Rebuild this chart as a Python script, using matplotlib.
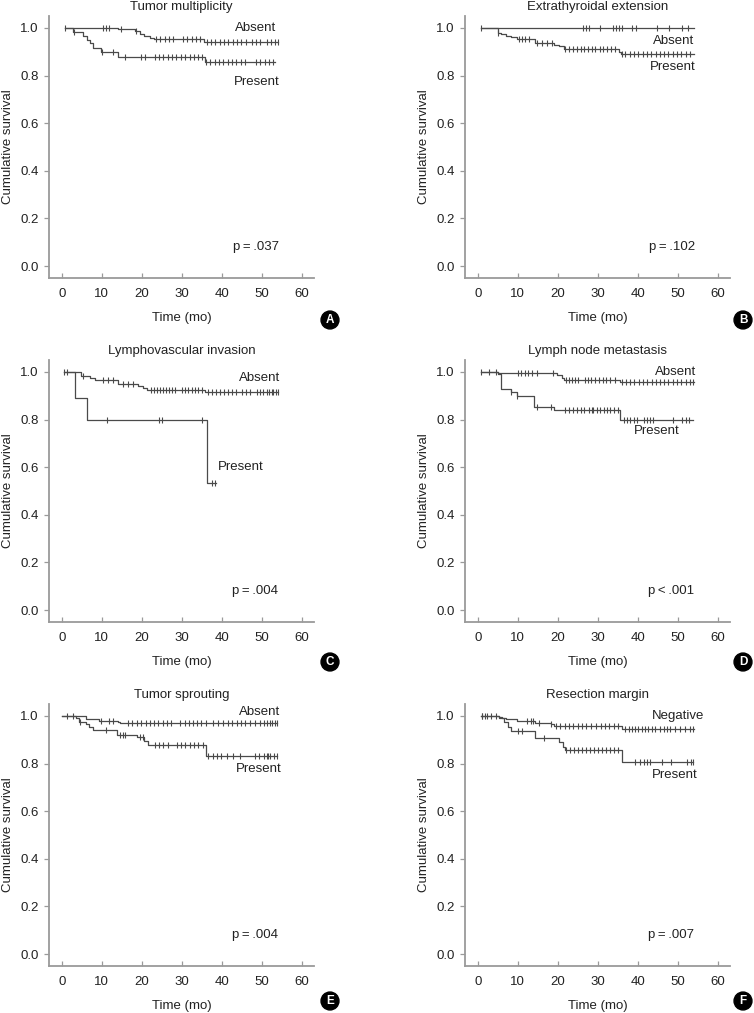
import numpy as np
import matplotlib
matplotlib.use("Agg")
import matplotlib.pyplot as plt

plt.rcParams['font.family'] = ['Liberation Sans', 'DejaVu Sans']

# ---------------- data ----------------
titles = ["Tumor multiplicity", "Extrathyroidal extension", "Lymphovascular invasion",
          "Lymph node metastasis", "Tumor sprouting", "Resection margin"]
letters = ["A", "B", "C", "D", "E", "F"]
pvalues = ["p\u2009=\u2009.037", "p\u2009=\u2009.102", "p\u2009=\u2009.004",
           "p\u2009<\u2009.001", "p\u2009=\u2009.004", "p\u2009=\u2009.007"]
group_names = [("Absent", "Present"), ("Absent", "Present"), ("Absent", "Present"),
               ("Absent", "Present"), ("Absent", "Present"), ("Negative", "Present")]
x_ticks = [0, 10, 20, 30, 40, 50, 60]
y_ticks = [0.0, 0.2, 0.4, 0.6, 0.8, 1.0]

# A - Tumor multiplicity
a1_span = (0.75, 54.1)
a1_ev_t = [14.1, 18.3, 19.5, 20.5, 22.0, 23.0, 35.5]
a1_ev_s = [0.994, 0.985, 0.975, 0.965, 0.958, 0.952, 0.940]
a1_cens = [0.75, 10.4, 11.0, 11.7, 14.9, 18.5, 23.5, 24.6, 25.7, 26.8, 27.8, 30.3, 31.3,
           32.4, 33.5, 34.5, 36.2, 37.3, 38.3, 39.4, 40.5, 41.6, 42.7, 43.8, 44.8, 45.9,
           47.4, 48.5, 49.6, 51.2, 52.3, 53.3, 54.1]
a2_span = (0.75, 53.3)
a2_ev_t = [2.7, 5.2, 6.3, 7.0, 7.8, 9.8, 14.1, 35.8]
a2_ev_s = [0.983, 0.965, 0.950, 0.935, 0.917, 0.900, 0.877, 0.857]
a2_cens = [3.0, 10.0, 12.8, 15.8, 19.9, 20.9, 23.3, 24.3, 25.4, 26.5, 27.6, 28.6, 29.7,
           30.8, 31.9, 33.0, 34.0, 35.0, 36.0, 37.1, 38.2, 39.3, 40.3, 41.4, 42.5, 43.6,
           44.7, 45.8, 48.5, 49.6, 50.7, 51.8, 52.8]

# B - Extrathyroidal extension
b1_span = (0.75, 54.0)
b1_ev_t = []
b1_ev_s = []
b1_cens = [0.75, 26.3, 27.0, 27.8, 30.6, 33.7, 34.4, 35.2, 36.0, 38.5, 39.6, 44.7,
           47.8, 50.9, 52.6]
b2_span = (0.75, 54.0)
b2_ev_t = [5.1, 5.7, 7.0, 8.2, 9.9, 14.2, 19.0, 20.2, 21.6, 35.2, 35.7]
b2_ev_s = [0.98, 0.975, 0.967, 0.96, 0.953, 0.937, 0.93, 0.922, 0.912, 0.90, 0.89]
b2_cens = [5.1, 10.3, 11.1, 11.9, 12.8, 14.8, 16.1, 17.3, 18.6, 21.9, 22.9, 23.8, 24.8,
           25.7, 26.6, 27.6, 28.5, 29.4, 30.4, 31.3, 32.2, 33.2, 34.2, 35.9, 36.8, 37.9,
           39.0, 40.1, 41.2, 42.2, 43.3, 44.4, 45.4, 46.5, 47.6, 48.7, 49.8, 50.8, 51.9,
           53.0]

# C - Lymphovascular invasion
c1_span = (0.6, 54.1)
c1_ev_t = [4.9, 7.0, 8.25, 14.1, 19.1, 20.3, 21.2, 35.75]
c1_ev_s = [0.983, 0.975, 0.966, 0.95, 0.94, 0.933, 0.925, 0.915]
c1_cens = [0.6, 1.4, 5.2, 10.3, 11.6, 12.8, 15.3, 16.6, 17.8, 22.25, 23.0, 23.75, 24.5,
           25.25, 26.0, 26.75, 27.5, 28.25, 29.9, 30.75, 31.6, 32.4, 33.25, 34.1, 34.9,
           36.6, 37.6, 38.6, 39.6, 40.6, 41.6, 42.6, 43.6, 44.9, 45.9, 46.9, 48.7, 49.5,
           50.3, 51.2, 51.8, 52.4, 52.8, 53.5, 54.1]
c2_span = (0.6, 38.5)
c2_ev_t = [3.25, 6.3, 36.3]
c2_ev_s = [0.89, 0.796, 0.534]
c2_cens = [11.3, 24.3, 25.1, 34.9, 37.4, 38.25]

# D - Lymph node metastasis
d1_span = (0.75, 54.1)
d1_ev_t = [5.1, 19.8, 21.1, 21.6, 35.4]
d1_ev_s = [0.994, 0.985, 0.975, 0.966, 0.958]
d1_cens = [0.75, 2.8, 4.5, 10.1, 10.9, 11.8, 12.6, 13.6, 14.8, 18.8, 22.1, 22.9, 23.6,
           24.4, 25.0, 26.7, 27.5, 28.4, 29.4, 30.3, 31.2, 32.1, 33.1, 34.2, 36.0, 37.0,
           38.1, 39.1, 40.2, 41.3, 42.3, 43.4, 44.4, 45.5, 46.6, 47.6, 48.7, 49.8, 50.8,
           51.9, 52.9, 53.8]
d2_span = (0.75, 53.8)
d2_ev_t = [5.1, 5.9, 8.2, 9.9, 14.0, 19.0, 35.6]
d2_ev_s = [0.99, 0.928, 0.915, 0.90, 0.852, 0.842, 0.80]
d2_cens = [8.4, 9.9, 14.8, 18.2, 21.9, 22.9, 23.8, 24.8, 25.7, 26.6, 27.7, 28.5, 28.9,
           29.8, 30.6, 31.4, 32.2, 33.1, 33.9, 34.9, 36.4, 37.2, 38.1, 38.9, 39.7, 41.4,
           42.2, 43.0, 43.7, 48.7, 50.9, 52.0, 52.8]

# E - Tumor sprouting
e1_span = (0.0, 53.7)
e1_ev_t = [6.0, 9.3, 14.0, 14.5]
e1_ev_s = [0.987, 0.98, 0.975, 0.972]
e1_cens = [1.2, 2.7, 9.7, 11.8, 12.8, 16.6, 17.6, 18.7, 19.9, 21.0, 22.0, 23.1, 24.1,
           25.2, 26.2, 27.4, 29.5, 30.75, 31.8, 32.8, 33.8, 34.8, 36.0, 37.8, 39.1, 40.3,
           41.4, 42.4, 43.7, 44.7, 45.75, 47.0, 48.25, 49.5, 50.5, 51.2, 52.0, 52.6,
           53.2, 53.7]
e2_span = (0.0, 53.8)
e2_ev_t = [3.5, 4.3, 6.0, 6.8, 7.8, 13.7, 18.9, 20.5, 21.6, 36.0]
e2_ev_s = [0.99, 0.975, 0.965, 0.955, 0.94, 0.92, 0.91, 0.895, 0.876, 0.833]
e2_cens = [4.5, 11.0, 14.5, 15.2, 15.8, 19.5, 20.2, 23.25, 24.3, 25.4, 26.5, 28.7,
           29.75, 30.8, 31.9, 33.0, 34.1, 35.2, 36.6, 37.7, 38.75, 39.8, 41.2, 42.8,
           44.5, 48.25, 49.3, 50.4, 51.2, 51.6, 52.0, 53.0, 53.8]

# F - Resection margin
f1_span = (0.75, 54.0)
f1_ev_t = [5.3, 6.1, 7.0, 9.9, 14.2, 18.2, 19.0, 36.0]
f1_ev_s = [0.995, 0.99, 0.985, 0.977, 0.97, 0.965, 0.958, 0.944]
f1_cens = [1.0, 1.7, 2.4, 3.2, 4.5, 12.4, 13.2, 13.9, 15.3, 18.2, 19.6, 20.6, 21.7, 22.8,
           23.9, 25.0, 26.0, 27.1, 28.2, 29.6, 30.7, 31.7, 32.8, 33.9, 34.9, 36.8, 37.7,
           38.5, 39.3, 40.1, 41.0, 41.8, 42.6, 43.4, 44.3, 45.5, 46.4, 47.2, 48.0, 49.3,
           50.5, 51.8, 53.0, 53.8]
f2_span = (0.75, 53.8)
f2_ev_t = [5.3, 6.5, 7.5, 8.4, 14.4, 20.2, 21.3, 21.9, 36.0]
f2_ev_s = [0.99, 0.975, 0.955, 0.936, 0.906, 0.89, 0.87, 0.856, 0.805]
f2_cens = [1.0, 10.1, 11.1, 16.5, 22.1, 23.1, 24.1, 25.1, 26.1, 27.1, 28.1, 29.1, 30.1,
           31.1, 32.1, 33.1, 33.9, 34.9, 39.3, 40.4, 41.4, 42.2, 43.0, 45.9, 48.2, 52.3,
           53.2, 53.8]

curves = [
    [(a1_span, a1_ev_t, a1_ev_s, a1_cens), (a2_span, a2_ev_t, a2_ev_s, a2_cens)],
    [(b1_span, b1_ev_t, b1_ev_s, b1_cens), (b2_span, b2_ev_t, b2_ev_s, b2_cens)],
    [(c1_span, c1_ev_t, c1_ev_s, c1_cens), (c2_span, c2_ev_t, c2_ev_s, c2_cens)],
    [(d1_span, d1_ev_t, d1_ev_s, d1_cens), (d2_span, d2_ev_t, d2_ev_s, d2_cens)],
    [(e1_span, e1_ev_t, e1_ev_s, e1_cens), (e2_span, e2_ev_t, e2_ev_s, e2_cens)],
    [(f1_span, f1_ev_t, f1_ev_s, f1_cens), (f2_span, f2_ev_t, f2_ev_s, f2_cens)],
]

# ---------------- layout (positions of annotations, data coords) ----------------
label_pos = [
    [(48.3, 1.0), (48.7, 0.773)],
    [(48.8, 0.947), (48.6, 0.837)],
    [(49.3, 0.976), (44.75, 0.60)],
    [(49.3, 1.0), (44.7, 0.75)],
    [(49.5, 1.018), (49.3, 0.777)],
    [(50.0, 1.0), (49.3, 0.75)],
]
p_pos = [(48.5, 0.08), (48.5, 0.08), (48.25, 0.08), (48.2, 0.08), (48.25, 0.08), (48.2, 0.08)]

W, H = 754, 1013
fig = plt.figure(figsize=(W / 100, H / 100), dpi=100)

col_left = [49, 465]
ax_w = 265
row_top = [16, 360, 704]
ax_h = 262
letter_y = [320, 662, 1001]

line_c = '#4a4a4a'
spine_c = '#9a9a9a'
text_c = '#222222'
fs = 9.5


def km_step(span, ev_t, ev_s):
    xs = [span[0]] + list(ev_t) + [span[1]]
    ys = [1.0] + list(ev_s) + [ev_s[-1] if len(ev_s) else 1.0]
    return np.array(xs), np.array(ys)


for i in range(6):
    r, c = divmod(i, 2)
    left = col_left[c] / W
    bottom = 1 - (row_top[r] + ax_h) / H
    ax = fig.add_axes([left, bottom, ax_w / W, ax_h / H])
    ax.set_xlim(-3.2, 63)
    ax.set_ylim(-0.05, 1.05)
    for s in ['top', 'right']:
        ax.spines[s].set_visible(False)
    for s in ['left', 'bottom']:
        ax.spines[s].set_color(spine_c)
        ax.spines[s].set_linewidth(1.3)
    ax.set_xticks(x_ticks)
    ax.set_yticks(y_ticks)
    ax.set_yticklabels([f"{v:.1f}" for v in y_ticks])
    ax.tick_params(axis='x', direction='in', length=3.5, width=0.9, color=spine_c,
                   pad=7, labelsize=fs, labelcolor=text_c)
    ax.tick_params(axis='y', direction='out', length=3.5, width=0.9, color=spine_c,
                   pad=4, labelsize=fs, labelcolor=text_c)

    for (span, ev_t, ev_s, cens) in curves[i]:
        xs, ys = km_step(span, ev_t, ev_s)
        ax.step(xs, ys, where='post', color=line_c, lw=0.9)
        cens = np.array(cens)
        idx = np.searchsorted(xs, cens, side='right') - 1
        idx = np.clip(idx, 0, len(ys) - 1)
        ax.plot(cens, ys[idx], linestyle='none', marker='|', ms=5, mew=0.8, color=line_c)

    for name, (lx, ly) in zip(group_names[i], label_pos[i]):
        ax.text(lx, ly, name, ha='center', va='center', fontsize=fs, color=text_c)
    ax.text(p_pos[i][0], p_pos[i][1], pvalues[i], ha='center', va='center',
            fontsize=fs, color=text_c)

    ax.set_title(titles[i], fontsize=fs, color=text_c, pad=4)
    ax.text(0.5, -40 / ax_h, "Time (mo)", transform=ax.transAxes, ha='center',
            va='center', fontsize=fs, color=text_c)
    ax.text(-41 / ax_w, 0.5, "Cumulative survival", transform=ax.transAxes,
            ha='center', va='center', rotation=90, fontsize=fs, color=text_c)

    # panel letter
    cx = 330 if c == 0 else 743
    cy = letter_y[r]
    fig.text(cx / W, 1 - cy / H, letters[i], ha='center', va='center', color='white',
             fontsize=8.5, fontweight='bold',
             bbox=dict(boxstyle='circle,pad=0.25', fc='black', ec='black'))

fig.savefig("out.png", dpi=100)
